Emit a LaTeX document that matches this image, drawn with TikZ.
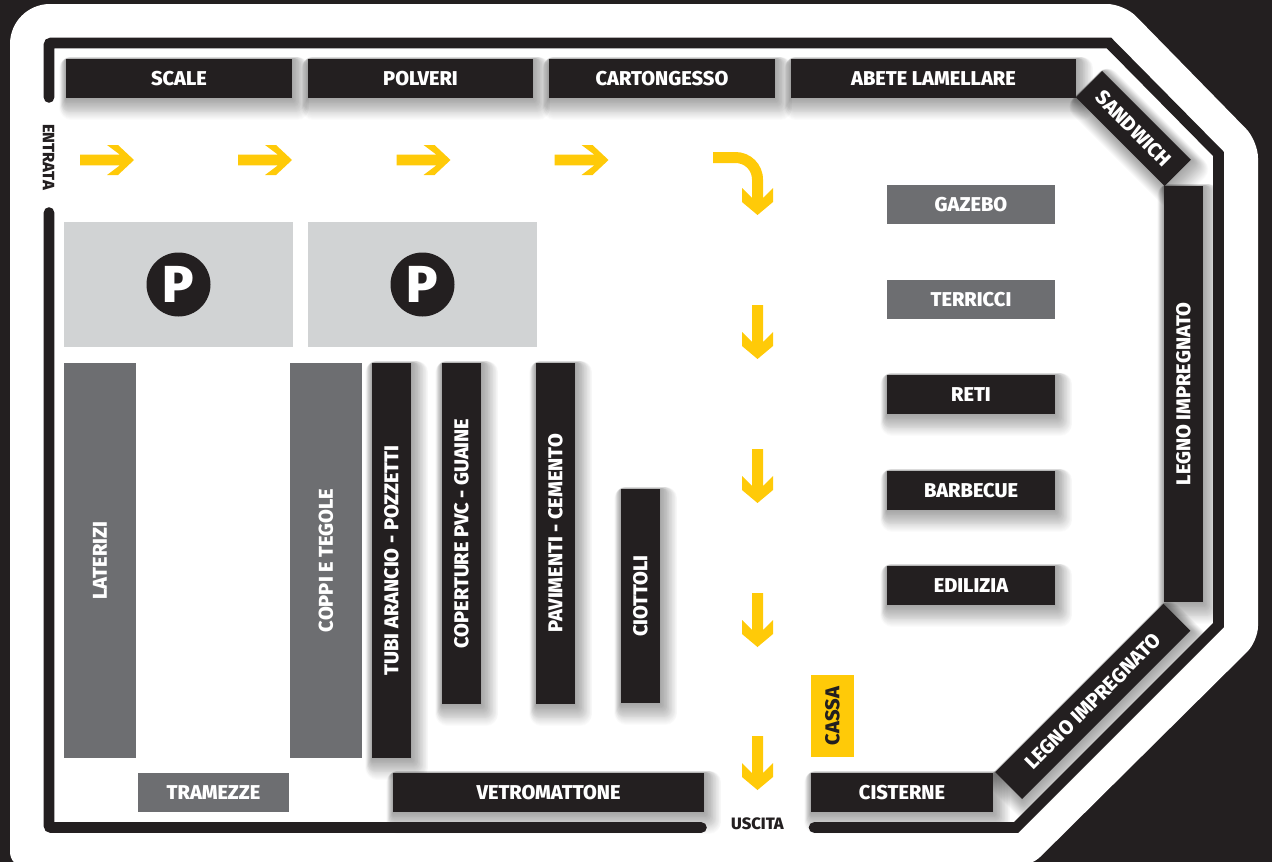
\documentclass[tikz,border=0pt]{standalone}
\usepackage{fontspec}
\setmainfont{Fira Sans}[UprightFont=* SemiBold,BoldFont=* ExtraBold]
\definecolor{ink}{HTML}{231F20}
\definecolor{midgray}{HTML}{6D6E71}
\definecolor{lightgray}{HTML}{D1D3D4}
\definecolor{signal}{HTML}{FFCA08}
\pgfdeclarelayer{back}
\pgfdeclarelayer{soft}
\pgfsetlayers{back,soft,main}
\tikzset{
  box/.style={inner sep=0pt,outer sep=0pt,align=center,font=\fontsize{20}{20}\selectfont\bfseries,text=white},
  darkbox/.style={box,fill=ink},
  graybox/.style={box,fill=midgray},
  parkbox/.style={fill=lightgray,inner sep=0pt,outer sep=0pt},
  wide/.style={minimum width=#1,minimum height=39pt},
  tall/.style={minimum width=39pt,minimum height=#1},
  track/.style={draw=ink,line width=10.6pt,line cap=round,line join=miter},
  small/.style={inner sep=0pt,outer sep=0pt,text=ink,font=\fontsize{16.5}{16.5}\selectfont\bfseries},
  parkmark/.style={circle,fill=ink,minimum size=64pt,inner sep=0pt,text=white,font=\fontsize{52}{52}\selectfont\bfseries},
  softlayer/.style={draw=black,draw opacity=.017,line join=round,line width={2*#1 pt},transform canvas={shift={({.45*#1},{.8*#1})}}},
  rightarr/.pic={\fill[signal] (0,-5.3) -- (40,-5.3) -- (27,-15) -- (38,-15) -- (54,0) -- (38,15) -- (27,15) -- (40,5.3) -- (0,5.3) -- cycle;},
  downarr/.pic={\fill[signal] (-5.5,0) -- (5.5,0) -- (5.5,37) -- (15.5,27) -- (15.5,41) -- (0,54) -- (-15.5,41) -- (-15.5,27) -- (-5.5,37) -- cycle;},
  bendarr/.pic={\fill[signal] (-44.5,-49) -- (-22,-49) .. controls (-7,-49) and (5.5,-37) .. (5.5,-21.5) -- (5.5,-3) -- (15.5,-13) -- (15.5,1) -- (0,14) -- (-15.5,1) -- (-15.5,-13) -- (-5.5,-3) -- (-5.5,-21.5) .. controls (-5.5,-31) and (-13,-38) .. (-22,-38) -- (-44.5,-38) -- cycle;},
}
\begin{document}
\begin{tikzpicture}[x=1pt,y=-1pt]
\useasboundingbox (0,0) rectangle (1272,862);
\begin{pgfonlayer}{back}
\clip (0,0) rectangle (1272,862);
\fill[ink] (0,0) rectangle (1272,862);
\fill[white,rounded corners=40pt] (10,867) -- (10,4) [rounded corners=17pt] -- (1124,4) -- (1258,141) [rounded corners=15pt] -- (1258,641) -- (1030,867) -- cycle;
\end{pgfonlayer}

% top row
\node[darkbox,wide=226pt] (scale) at (179,78.5) {SCALE};
\node[darkbox,wide=225pt] (polveri) at (420.5,78.5) {POLVERI};
\node[darkbox,wide=226pt] (carton) at (662,78.5) {CARTONGESSO};
\node[darkbox,wide=285pt] (abete) at (933.5,78.5) {ABETE LAMELLARE};
\node[darkbox,minimum width=125.5pt,minimum height=37pt,rotate=-45] (sandwich) at (1133.4,128.5) {SANDWICH};
\node[darkbox,tall=416pt] (legnoV) at (1183.5,394) {\rotatebox{90}{LEGNO IMPREGNATO}};
\node[darkbox,minimum width=238pt,minimum height=38pt,rotate=45] (legnoD) at (1092.8,701.5) {LEGNO IMPREGNATO};

% right column
\node[graybox,minimum width=168pt,minimum height=39pt] (gazebo) at (971,204.5) {GAZEBO};
\node[graybox,minimum width=168pt,minimum height=39pt] (terricci) at (971,299.5) {TERRICCI};
\node[darkbox,wide=168pt] (reti) at (971,394.5) {RETI};
\node[darkbox,wide=168pt] (barbecue) at (971,490.5) {BARBECUE};
\node[darkbox,wide=168pt] (edilizia) at (971,585.5) {EDILIZIA};

% vertical blocks
\node[graybox,minimum width=72pt,minimum height=395pt] (laterizi) at (100,560.5) {\rotatebox{90}{LATERIZI}};
\node[graybox,minimum width=72pt,minimum height=395pt] (coppi) at (326,560.5) {\rotatebox{90}{COPPI E TEGOLE}};
\node[darkbox,tall=395pt] (tubi) at (391.5,560.5) {\rotatebox{90}{TUBI ARANCIO - POZZETTI}};
\node[darkbox,tall=341pt] (coperture) at (461.5,533.5) {\rotatebox{90}{COPERTURE PVC - GUAINE}};
\node[darkbox,tall=341pt] (pavimenti) at (555.5,533.5) {\rotatebox{90}{PAVIMENTI - CEMENTO}};
\node[darkbox,tall=214pt] (ciottoli) at (640.5,596) {\rotatebox{90}{CIOTTOLI}};

% bottom row
\node[darkbox,wide=311pt] (vetro) at (548.5,792.5) {VETROMATTONE};
\node[darkbox,wide=182pt] (cisterne) at (902,792.5) {CISTERNE};
\node[graybox,minimum width=151pt,minimum height=39pt] (tramezze) at (213.5,792.5) {TRAMEZZE};
\node[box,fill=signal,text=ink,minimum width=43pt,minimum height=82pt] (cassa) at (832.5,716) {\rotatebox{90}{CASSA}};

% soft shadows of the dark labels
\begin{pgfonlayer}{soft}
\foreach \n in {scale,polveri,carton,abete,sandwich,legnoV,legnoD,reti,barbecue,edilizia,tubi,coperture,pavimenti,ciottoli,vetro,cisterne}
  \foreach \h in {0.5,1,...,12}
    \draw[softlayer=\h] (\n.north west) -- (\n.north east) -- (\n.south east) -- (\n.south west) -- cycle;
\end{pgfonlayer}

% track
\coordinate (inA) at (49,97.5);
\coordinate (inB) at (49,212.5);
\coordinate (tl) at (49,43);
\coordinate (tr) at (1109,43);
\coordinate (rt) at (1218.5,154);
\coordinate (rb) at (1218.5,625);
\coordinate (br) at (1016,827.5);
\coordinate (bl) at (49,827.5);
\coordinate (outA) at (814,827.5);
\coordinate (outB) at (701.5,827.5);
\draw[track,rounded corners=2pt] (inA) -- (tl) [sharp corners] -- (tr) -- (rt) -- (rb) -- (br) -- (outA);
\draw[track,rounded corners=2pt] (inB) -- (bl) [sharp corners] -- (outB);

% parking
\node[parkbox,minimum width=229pt,minimum height=125pt] (parkA) at (178.5,284.5) {};
\node[parkbox,minimum width=229pt,minimum height=125pt] (parkB) at (422.5,284.5) {};
\node[parkmark] (pA) at (178.5,284.5) {P};
\node[parkmark] (pB) at (422.5,284.5) {P};

% small labels
\node[small,rotate=-90] (entrata) at (48.5,157) {ENTRATA};
\node[small] (uscita) at (757.5,824) {USCITA};

% arrows
\pic at (80,160) {rightarr};
\pic at (238,160) {rightarr};
\pic at (396.5,160) {rightarr};
\pic at (554.5,160) {rightarr};
\pic at (757.5,201) {bendarr};
\pic at (757.5,305) {downarr};
\pic at (757.5,449) {downarr};
\pic at (757.5,593) {downarr};
\pic at (757.5,736) {downarr};
\end{tikzpicture}
\end{document}
